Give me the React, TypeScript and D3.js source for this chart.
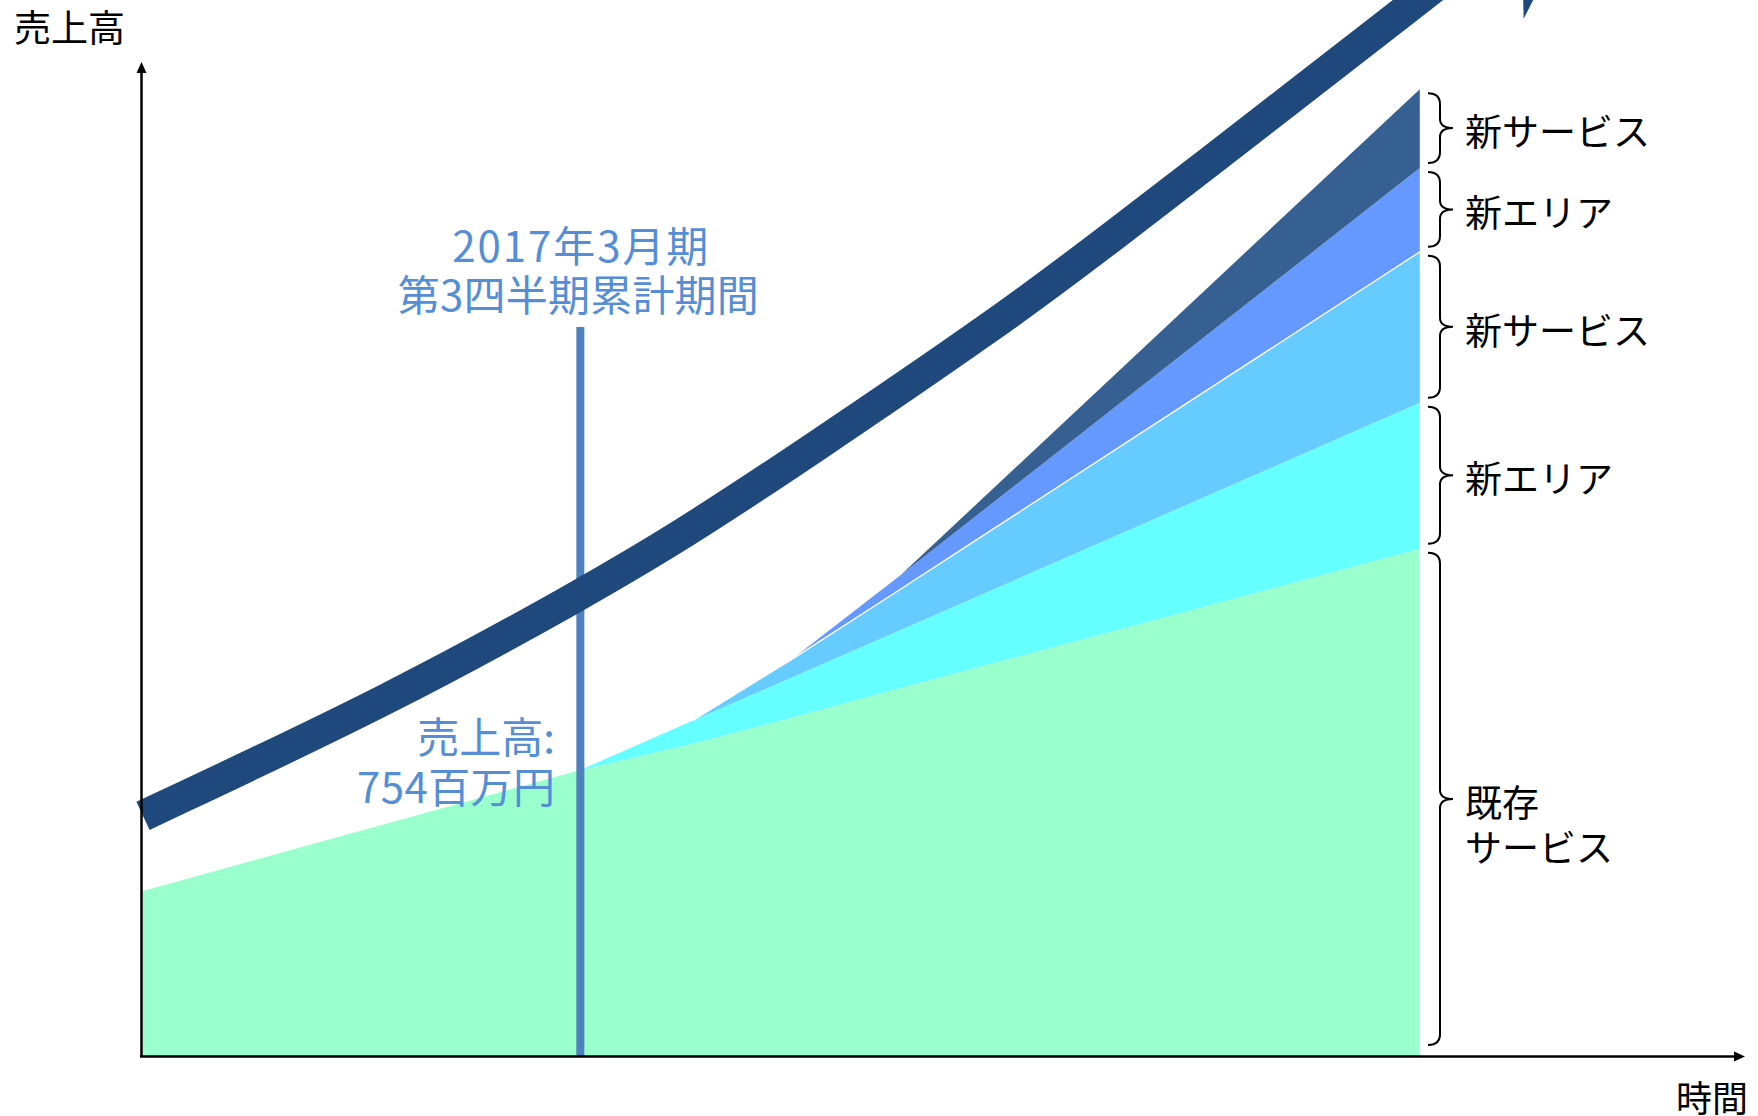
import React from 'react';
import * as d3 from 'd3';

// time index along the x axis (left edge = 0)
const times = [0, 2.73, 3.43, 4.04, 4.73, 7.97];

// stacked sales by segment, 百万円 (null = segment not started yet)
const existingService = [435, 754, 823, 891, 970, 1337];
const newArea1 = [null, 0, 61, 105, 153, 385];
const newService1 = [null, null, 0, 47, 108, 398];
const newArea2 = [null, null, null, 0, 37, 221];
const newService2 = [null, null, null, null, 0, 208];

const layerKeys = ['existingService', 'newArea1', 'newService1', 'newArea2', 'newService2'];
const layerValues: (number | null)[][] = [existingService, newArea1, newService1, newArea2, newService2];
const layerLabels = [['既存', 'サービス'], ['新エリア'], ['新サービス'], ['新エリア'], ['新サービス']];
const layerColors = ['#99FFCC', '#66FFFF', '#66CCFF', '#6699FF', '#376092'];

// target trend line (thick arrow)
const trendTimes = [0, 1.56, 2.73, 3.36, 4.11, 5.36, 5.97, 7.22, 7.96, 8.31];
const trendValues = [633, 943, 1215, 1372, 1580, 1940, 2133, 2541, 2784, 2900];

const markerTime = 2.73;
const markerTitle = ['2017年3月期', '第3四半期累計期間'];
const markerValue = ['売上高:', '754百万円'];

const W = 1758;
const H = 1116;
const FONT = '"Noto Sans CJK JP", "Noto Sans", sans-serif';

const x = d3.scaleLinear().domain([0, 10]).range([143, 1745]);
const y = d3.scaleLinear().domain([0, 2784]).range([1056, 0]);

const bracePath = (bx: number, y0: number, y1: number) => {
    const ym = (y0 + y1) / 2;
    return `M${bx - 12},${y0} Q${bx},${y0} ${bx},${y0 + 11} L${bx},${ym - 9} Q${bx},${ym} ${bx + 13},${ym}` +
        ` Q${bx},${ym} ${bx},${ym + 9} L${bx},${y1 - 11} Q${bx},${y1} ${bx - 12},${y1}`;
};

export default function App() {
    const rows = times.map((t, i) => {
        const r: any = { t };
        layerKeys.forEach((k, j) => { r[k] = layerValues[j][i] ?? 0; });
        return r;
    });
    const stack = d3.stack<any>().keys(layerKeys)(rows);

    const areaFor = (j: number) => d3.area<any>()
        .defined((_d, i) => layerValues[j][i] != null)
        .x(d => x(d.data.t))
        .y0(d => y(d[0]))
        .y1(d => y(d[1]));

    const topLine = (j: number) => d3.line<any>()
        .defined((_d, i) => layerValues[j][i] != null)
        .x(d => x(d.data.t))
        .y(d => y(d[1]));

    const trendPts: [number, number][] = trendTimes.map((t, i) => [x(t), y(trendValues[i])]);
    const trendPath = d3.line().curve(d3.curveBasis)(trendPts) ?? '';

    // arrowhead at end of trend line
    const [p1, p2] = trendPts.slice(-2);
    const len = Math.hypot(p2[0] - p1[0], p2[1] - p1[1]);
    const dir = [(p2[0] - p1[0]) / len, (p2[1] - p1[1]) / len];
    const perp = [-dir[1], dir[0]];
    const hw = 80, hl = 170;
    const head = [
        [p2[0] + perp[0] * hw, p2[1] + perp[1] * hw],
        [p2[0] + dir[0] * hl, p2[1] + dir[1] * hl],
        [p2[0] - perp[0] * hw, p2[1] - perp[1] * hw],
        [p2[0] + dir[0] * 60, p2[1] + dir[1] * 60],
    ].map(p => p.join(',')).join(' ');

    // braces next to the final stacked values
    const last = times.length - 1;
    const braceX = 1440;
    const braces = stack.map((s, j) => {
        const top = y(s[last][1]) + 4;
        const bottom = j === 0 ? y(s[last][0]) - 11 : y(s[last][0]) - 5;
        return { j, top, bottom, mid: (top + bottom) / 2 };
    });

    const mx = x(markerTime);

    return (
        <svg width={W} height={H} style={{ position: 'absolute', left: 0, top: 0, display: 'block', background: '#fff' }}
            fontFamily={FONT}>
            {stack.map((s, j) => (
                <path key={s.key} d={areaFor(j)(s as any) ?? ''} fill={layerColors[j]} />
            ))}
            <path d={topLine(2)(stack[2] as any) ?? ''} fill="none" stroke="#fff" strokeWidth={1.3} />

            {/* marker line */}
            <rect x={mx - 4} y={327} width={8} height={1056 - 327} fill="#4F81BD" />

            {/* trend arrow */}
            <path d={trendPath} fill="none" stroke="#1F497D" strokeWidth={31} strokeLinecap="butt" />
            <polygon points={head} fill="#1F497D" />

            {/* axes */}
            <line x1={141.5} y1={1057} x2={141.5} y2={70} stroke="#000" strokeWidth={2.5} />
            <polygon points="141.5,62 136.5,73 146.5,73" fill="#000" />
            <line x1={140} y1={1056.5} x2={1736} y2={1056.5} stroke="#000" strokeWidth={2.5} />
            <polygon points="1745,1056.5 1734,1051.5 1734,1061.5" fill="#000" />
            <text x={14} y={26} fontSize={37} dominantBaseline="central" fill="#000">売上高</text>
            <text x={1748} y={1096} fontSize={36} dominantBaseline="central" textAnchor="end" fill="#000">時間</text>

            {/* braces and labels */}
            {braces.map(b => (
                <g key={b.j}>
                    <path d={bracePath(braceX, b.top, b.bottom)} fill="none" stroke="#000" strokeWidth={2} />
                    {layerLabels[b.j].map((ln, k) => (
                        <text key={k} x={1465} y={b.mid + 2 + k * 45} fontSize={37} dominantBaseline="central" fill="#000">{ln}</text>
                    ))}
                </g>
            ))}

            {/* marker annotations */}
            <text x={mx} y={243} fontSize={42} textAnchor="middle" dominantBaseline="central" fill="#558ED5"
                textLength={256} lengthAdjust="spacing">{markerTitle[0]}</text>
            <text x={mx - 2} y={292} fontSize={42} textAnchor="middle" dominantBaseline="central" fill="#558ED5"
                textLength={361} lengthAdjust="spacing">{markerTitle[1]}</text>
            <text x={555} y={734} fontSize={42} textAnchor="end" dominantBaseline="central" fill="#558ED5">{markerValue[0]}</text>
            <text x={555} y={784} fontSize={42} textAnchor="end" dominantBaseline="central" fill="#558ED5"
                textLength={198} lengthAdjust="spacing">{markerValue[1]}</text>
        </svg>
    );
}
